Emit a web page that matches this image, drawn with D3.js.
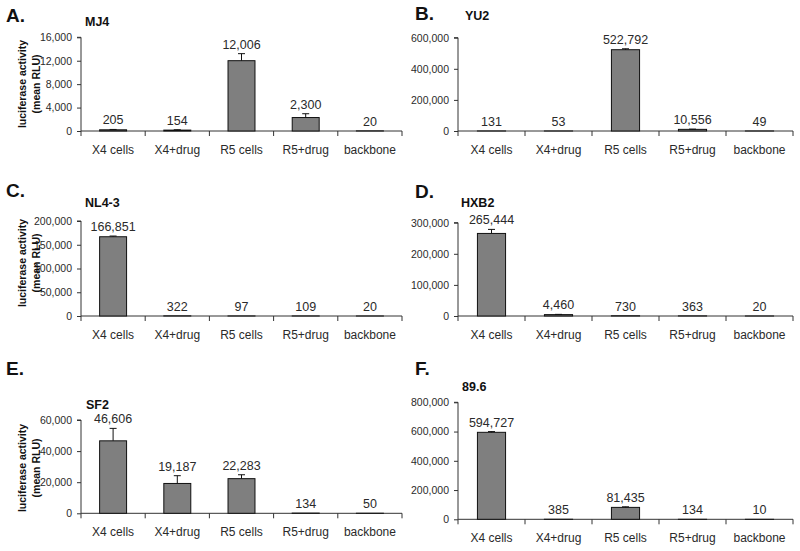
<!DOCTYPE html>
<html><head><meta charset="utf-8">
<script src="https://cdn.jsdelivr.net/npm/d3@7"></script>
<style>
html,body{margin:0;padding:0;background:#fff;}
svg{display:block;font-family:"Liberation Sans",Arial,sans-serif;}
</style></head>
<body>
<svg id="chart" width="800" height="551"></svg>
<script>
const categories = ["X4 cells","X4+drug","R5 cells","R5+drug","backbone"];

const mj4Values = [205,154,12006,2300,20];
const mj4Errors = [60,60,1200,650,0];
const mj4Ticks = [0,4000,8000,12000,16000];

const yu2Values = [131,53,522792,10556,49];
const yu2Errors = [0,0,6000,1500,0];
const yu2Ticks = [0,200000,400000,600000];

const nl43Values = [166851,322,97,109,20];
const nl43Errors = [1500,0,0,0,0];
const nl43Ticks = [0,50000,100000,150000,200000];

const hxb2Values = [265444,4460,730,363,20];
const hxb2Errors = [13000,800,0,0,0];
const hxb2Ticks = [0,100000,200000,300000];

const sf2Values = [46606,19187,22283,134,50];
const sf2Errors = [8000,5000,2500,0,0];
const sf2Ticks = [0,20000,40000,60000];

const v896Values = [594727,385,81435,134,10];
const v896Errors = [5000,0,4000,0,0];
const v896Ticks = [0,200000,400000,600000,800000];

const panelLetters = ["A.","B.","C.","D.","E.","F."];
const panelTitles = ["MJ4","YU2","NL4-3","HXB2","SF2","89.6"];

// layout (positions only)
const layouts = [
  {x0:81, x1:402, yb:131, yt:37.3, title:[85,26], letter:[6,22], cat:154, ylab:84},
  {x0:458, x1:793, yb:131, yt:37.7, title:[465,20], letter:[415,20], cat:154},
  {x0:81, x1:402, yb:316, yt:221, title:[85,207], letter:[6,197], cat:339, ylab:263},
  {x0:458, x1:793, yb:316, yt:222.7, title:[461,207], letter:[415,198], cat:339},
  {x0:81, x1:402, yb:513.3, yt:420, title:[86,409], letter:[6,375], cat:536, ylab:468},
  {x0:458, x1:793, yb:519.3, yt:402.3, title:[462,391], letter:[415,375], cat:542}
];

const panels = [
  {values:mj4Values, errors:mj4Errors, ticks:mj4Ticks},
  {values:yu2Values, errors:yu2Errors, ticks:yu2Ticks},
  {values:nl43Values, errors:nl43Errors, ticks:nl43Ticks},
  {values:hxb2Values, errors:hxb2Errors, ticks:hxb2Ticks},
  {values:sf2Values, errors:sf2Errors, ticks:sf2Ticks},
  {values:v896Values, errors:v896Errors, ticks:v896Ticks}
];

const svg = d3.select("#chart");
const fmt = d3.format(",");
const textCol = "#2a2a2a";

panels.forEach((p, i) => {
  const L = layouts[i];
  const g = svg.append("g");
  const x = d3.scaleBand().domain(categories).range([L.x0, L.x1]).paddingInner(0).paddingOuter(0);
  const y = d3.scaleLinear().domain([0, d3.max(p.ticks)]).range([L.yb, L.yt]);
  const bw = x.bandwidth() * 0.42;

  // y axis
  const yAx = g.append("g").attr("transform", `translate(${L.x0},0)`)
    .call(d3.axisLeft(y).tickValues(p.ticks).tickFormat(fmt).tickSize(4).tickPadding(5));
  yAx.select(".domain").attr("stroke", "#333").attr("d", `M-4,${y(d3.max(p.ticks))}H0V${L.yb}`);
  yAx.selectAll(".tick line").attr("stroke", "#333");
  yAx.selectAll("text").attr("font-size", "10.5px").attr("fill", textCol).attr("font-family", "Liberation Sans, Arial, sans-serif");

  // x axis
  g.append("line").attr("x1", L.x0).attr("x2", L.x1).attr("y1", L.yb).attr("y2", L.yb).attr("stroke", "#333");
  const bounds = categories.map(c => x(c)).concat([L.x1]);
  g.selectAll(".xt").data(bounds).enter().append("line")
    .attr("x1", d => d).attr("x2", d => d).attr("y1", L.yb).attr("y2", L.yb + 5).attr("stroke", "#333");
  g.selectAll(".cl").data(categories).enter().append("text")
    .attr("x", d => x(d) + x.bandwidth() / 2).attr("y", L.cat)
    .attr("text-anchor", "middle").attr("font-size", "12px").attr("fill", textCol).text(d => d);

  // bars
  const data = categories.map((c, k) => ({c, v: p.values[k], e: p.errors[k]}));
  g.selectAll(".bar").data(data).enter().append("rect")
    .attr("x", d => x(d.c) + x.bandwidth() / 2 - bw / 2)
    .attr("width", bw)
    .attr("y", d => y(d.v))
    .attr("height", d => L.yb - y(d.v))
    .attr("fill", "#7f7f7f").attr("stroke", "#111").attr("stroke-width", 1);

  // error bars (upper only)
  data.filter(d => d.e > 0).forEach(d => {
    const cx = x(d.c) + x.bandwidth() / 2;
    g.append("line").attr("x1", cx).attr("x2", cx).attr("y1", y(d.v)).attr("y2", y(d.v + d.e)).attr("stroke", "#111");
    g.append("line").attr("x1", cx - 3.5).attr("x2", cx + 3.5).attr("y1", y(d.v + d.e)).attr("y2", y(d.v + d.e)).attr("stroke", "#111");
  });

  // value labels
  g.selectAll(".vl").data(data).enter().append("text")
    .attr("x", d => x(d.c) + x.bandwidth() / 2)
    .attr("y", d => y(d.v + d.e) - 5)
    .attr("text-anchor", "middle").attr("font-size", "12.5px").attr("fill", textCol)
    .text(d => fmt(d.v));

  // title
  svg.append("text").attr("x", L.title[0]).attr("y", L.title[1])
    .attr("font-size", "12.5px").attr("font-weight", "bold").attr("fill", "#111").text(panelTitles[i]);
  // letter
  svg.append("text").attr("x", L.letter[0]).attr("y", L.letter[1])
    .attr("font-size", "19px").attr("font-weight", "bold").attr("fill", "#111").text(panelLetters[i]);

  // y label
  if (L.ylab !== undefined) {
    const t = svg.append("text").attr("transform", `translate(26,${L.ylab}) rotate(-90)`)
      .attr("text-anchor", "middle").attr("font-size", "10.5px").attr("font-weight", "bold").attr("fill", "#111");
    t.append("tspan").attr("x", 0).attr("y", 0).text("luciferase activity");
    t.append("tspan").attr("x", 0).attr("y", 14).text("(mean RLU)");
  }
});
</script>
</body></html>
